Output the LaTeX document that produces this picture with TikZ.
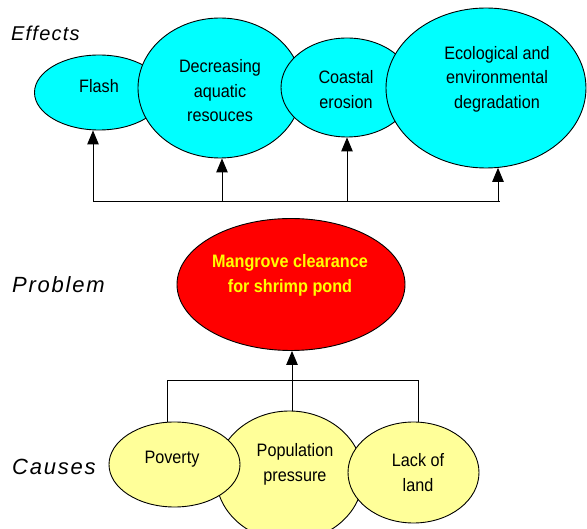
\documentclass[tikz,border=0pt]{standalone}
\usepackage{fontspec}
\setmainfont{Liberation Sans}
\newfontfamily\narrowfont[FakeStretch=0.9]{Liberation Sans}
\usetikzlibrary{shapes.geometric,arrows.meta}
\definecolor{effcyan}{HTML}{00FFFF}
\definecolor{causeyel}{HTML}{FFFF99}
\definecolor{probred}{HTML}{FF0000}
\definecolor{probtxt}{HTML}{FFFF00}
\begin{document}
\begin{tikzpicture}[x=1pt,y=-1pt,
  bubble/.style={ellipse,draw=black,line width=0.9pt,inner sep=0pt},
  effect/.style={bubble,fill=effcyan},
  cause/.style={bubble,fill=causeyel},
  problem/.style={bubble,fill=probred},
  btext/.style={align=center,font=\narrowfont\fontsize{18}{24.5}\selectfont,inner sep=0pt},
  ptext/.style={align=center,font=\narrowfont\fontsize{18}{25}\selectfont\bfseries,text=probtxt,inner sep=0pt},
  rowlabel/.style={anchor=west,inner sep=0pt},
  link/.style={draw=black,line width=0.9pt},
  arr/.style={link,-{Triangle[width=11.5pt,length=14pt]}}
]
\useasboundingbox (0,0) rectangle (587,529);

% row labels
\node[rowlabel,font=\fontsize{20}{24}\selectfont\itshape\addfontfeature{LetterSpace=6}] (leff) at (11,33) {Effects};
\node[rowlabel,font=\fontsize{22}{24}\selectfont\itshape\addfontfeature{LetterSpace=8}] (lprob) at (12,285) {Problem};
\node[rowlabel,font=\fontsize{22}{24}\selectfont\itshape\addfontfeature{LetterSpace=8}] (lcau) at (12,467) {Causes};

% effects
\node[effect,minimum width=129pt,minimum height=75pt] (flash) at (99,92.5) {};
\node[btext] (tflash) at (99,86) {Flash};
\node[effect,minimum width=164pt,minimum height=140pt] (decr) at (220,88) {};
\node[btext] (tdecr) at (220,91) {Decreasing\\aquatic\\resouces};
\node[effect,minimum width=132pt,minimum height=99pt] (coast) at (347,87.5) {};
\node[btext] (tcoast) at (346,89.5) {Coastal\\erosion};
\node[effect,minimum width=200pt,minimum height=160pt] (eco) at (486,88) {};
\node[btext] (teco) at (497,79) {Ecological and\\environmental\\degradation};

% effects connectors
\coordinate (e1) at (93,201);
\coordinate (e2) at (222,201);
\coordinate (e3) at (347,201);
\coordinate (e4) at (498,201);
\coordinate (e5) at (500,201);
\draw[link] (e1) -- (e5);
\draw[arr] (e1) -- (e1 |- flash.south);
\draw[arr] (e2) -- (e2 |- decr.south);
\draw[arr] (e3) -- (e3 |- coast.south);
\draw[arr] (e4) -- ([yshift=0.6pt]e4 |- eco.south);

% problem
\node[problem,minimum width=228pt,minimum height=132pt] (prob) at (291,284.5) {};
\node[ptext] (tprob) at (290,275.5) {Mangrove clearance\\for shrimp pond};

% causes
\node[cause,minimum width=147pt,minimum height=130pt] (pop) at (289.5,476) {};
\node[btext] (tpop) at (295,464.5) {Population\\pressure};
\node[cause,minimum width=131pt,minimum height=85pt] (pov) at (174.5,464.5) {};
\node[btext] (tpov) at (172,459) {Poverty};
\node[cause,minimum width=131pt,minimum height=101pt] (lack) at (413.5,472.5) {};
\node[btext] (tlack) at (418,472.5) {Lack of\\land};

% causes connectors
\coordinate (c1) at (167,380);
\coordinate (c2) at (292,380);
\coordinate (c3) at (418,380);
\draw[link] (c1 |- pov.north) -- (c1) -- (c3) -- (c3 |- lack.north);
\draw[link] (c2 |- pop.north) -- (c2);
\draw[arr] (c2) -- (c2 |- prob.south);
\end{tikzpicture}
\end{document}
